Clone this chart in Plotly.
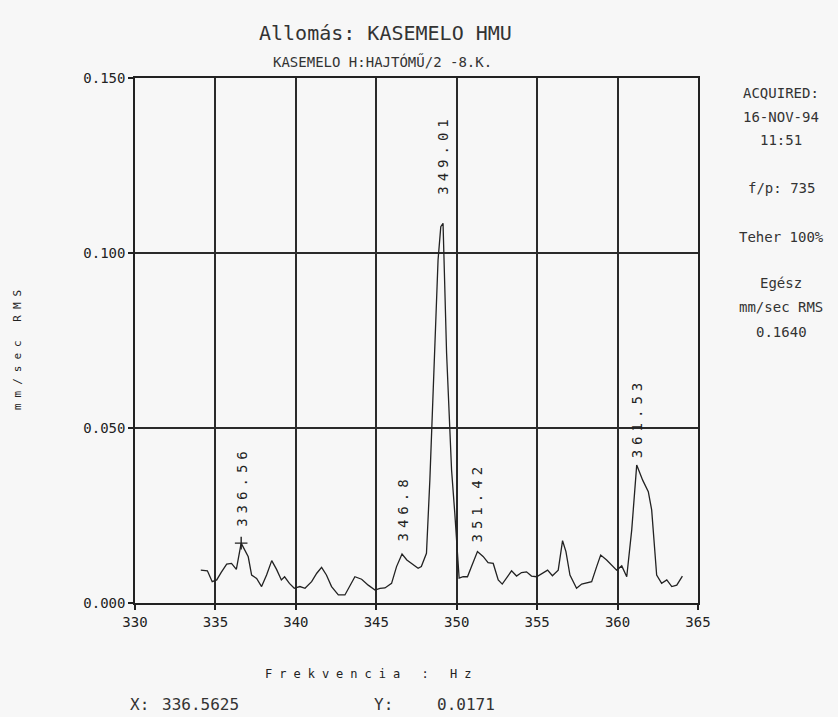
import plotly.graph_objects as go

# ---------------- data ----------------
freq = [334.09, 334.5, 334.8, 335.08, 335.35, 335.7, 336.0, 336.3, 336.6, 337.04,
        337.25, 337.56, 337.87, 338.18, 338.5, 338.8, 339.1, 339.3, 339.6, 339.9,
        340.25, 340.57, 340.98, 341.3, 341.6, 341.9, 342.22, 342.64, 343.05, 343.36,
        343.67, 344.09, 344.5, 344.92, 345.23, 345.54, 345.95, 346.26, 346.6, 346.9,
        347.2, 347.6, 347.8, 348.12, 348.33, 348.59, 348.84, 349.01, 349.15, 349.37,
        349.68, 349.88, 350.0, 350.15, 350.4, 350.67, 350.92, 351.29, 351.64, 351.95,
        352.27, 352.58, 352.83, 353.10, 353.41, 353.72, 354.03, 354.34, 354.65, 354.97,
        355.31, 355.65, 355.95, 356.31, 356.58, 356.79, 357.04, 357.45, 357.77, 358.08,
        358.39, 358.7, 358.95, 359.32, 359.63, 359.94, 360.26, 360.57, 360.88, 361.19,
        361.56, 361.91, 362.12, 362.43, 362.74, 363.06, 363.37, 363.68, 364.03]
amp = [0.0094, 0.0092, 0.0061, 0.0066, 0.0087, 0.0111, 0.0113, 0.0096, 0.0171, 0.0132,
       0.0080, 0.0070, 0.0047, 0.0080, 0.0121, 0.0096, 0.0066, 0.0075, 0.0056, 0.0042,
       0.0047, 0.0042, 0.0061, 0.0085, 0.0102, 0.0080, 0.0047, 0.0023, 0.0023, 0.0047,
       0.0075, 0.0068, 0.0051, 0.0037, 0.0042, 0.0043, 0.0056, 0.0104, 0.0140, 0.0123,
       0.0113, 0.0099, 0.0104, 0.0142, 0.0351, 0.0666, 0.0980, 0.1075, 0.1085, 0.0714,
       0.0380, 0.0257, 0.0161, 0.0071, 0.0075, 0.0075, 0.0104, 0.0147, 0.0133, 0.0115,
       0.0113, 0.0066, 0.0054, 0.0071, 0.0092, 0.0077, 0.0087, 0.0089, 0.0077, 0.0075,
       0.0085, 0.0094, 0.0078, 0.0094, 0.0178, 0.0147, 0.0080, 0.0042, 0.0054, 0.0058,
       0.0061, 0.0104, 0.0137, 0.0123, 0.0109, 0.0094, 0.0106, 0.0075, 0.0209, 0.0394,
       0.0351, 0.0318, 0.0266, 0.0080, 0.0056, 0.0066, 0.0047, 0.0051, 0.0077]
assert len(freq) == len(amp)

peak_labels = ["336.56", "346.8", "349.01", "351.42", "361.53"]
peak_x = [336.6, 346.6, 349.15, 351.29, 361.19]
peak_y = [0.0171, 0.0140, 0.1085, 0.0147, 0.0394]

cursor_x = [336.6]
cursor_y = [0.0171]

x_ticks = [330, 335, 340, 345, 350, 355, 360, 365]
y_ticks = [0.0, 0.05, 0.10, 0.15]

title_text = "Allomás: KASEMELO HMU"
subtitle_text = "KASEMELO H:HAJTÓMŰ/2 -8.K."
x_title = "Frekvencia : Hz"
y_title = "mm/sec RMS"
side_lines = ["ACQUIRED:", "16-NOV-94", "11:51", "f/p: 735", "Teher 100%",
              "Egész", "mm/sec RMS", "0.1640"]
readout = ["X:", "336.5625", "Y:", "0.0171"]

# ---------------- style ----------------
FONT = "DejaVu Sans Mono"
INK = "#222222"
BG = "#f7f7f7"
W, H = 838, 717
ML, MR, MT, MB = 135, 140, 78, 114
PW, PH = W - ML - MR, H - MT - MB


def px(x):
    return (x - ML) / PW


def py(y):
    return (H - MB - y) / PH


fig = go.Figure()
fig.add_trace(go.Scatter(x=freq, y=amp, mode="lines",
                         line=dict(color=INK, width=1.3), hoverinfo="x+y"))
fig.add_trace(go.Scatter(x=cursor_x, y=cursor_y, mode="markers",
                         marker=dict(symbol="cross-thin", size=9,
                                     line=dict(color=INK, width=1.4)),
                         hoverinfo="skip"))

ann = []
label_shift = [14, 10, 26, 7, 5]
for lab, xx, yy, sh in zip(peak_labels, peak_x, peak_y, label_shift):
    ann.append(dict(x=xx, y=yy, xref="x", yref="y", showarrow=False,
                    text=f'<span style="letter-spacing:5px">{lab}</span>',
                    textangle=-90, xanchor="center", yanchor="bottom",
                    yshift=sh, font=dict(family=FONT, size=14, color=INK)))

ann.append(dict(x=px(385), y=py(33), xref="paper", yref="paper", showarrow=False,
                text=title_text, xanchor="center", yanchor="middle",
                font=dict(family=FONT, size=20, color="#333")))
ann.append(dict(x=px(382), y=py(62), xref="paper", yref="paper", showarrow=False,
                text=subtitle_text, xanchor="center", yanchor="middle",
                font=dict(family=FONT, size=14, color="#333")))
ann.append(dict(x=px(371), y=py(674), xref="paper", yref="paper", showarrow=False,
                text=f'<span style="letter-spacing:7px">{x_title}</span>',
                xanchor="center", yanchor="middle",
                font=dict(family=FONT, size=12, color=INK)))
ann.append(dict(x=px(17), y=py(347), xref="paper", yref="paper", showarrow=False,
                text=f'<span style="letter-spacing:6px">{y_title}</span>',
                textangle=-90, xanchor="center", yanchor="middle",
                font=dict(family=FONT, size=11, color=INK)))

side_y = [93, 117, 140, 188, 237, 283, 307, 332]
for t, yy in zip(side_lines, side_y):
    ann.append(dict(x=px(781), y=py(yy), xref="paper", yref="paper", showarrow=False,
                    text=t, xanchor="center", yanchor="middle",
                    font=dict(family=FONT, size=14, color="#333")))

read_x = [128, 160, 372, 435]
for t, xx in zip(readout, read_x):
    ann.append(dict(x=px(xx), y=py(704), xref="paper", yref="paper", showarrow=False,
                    text=t, xanchor="left", yanchor="middle",
                    font=dict(family=FONT, size=16, color="#333")))

axis_common = dict(showline=True, linecolor=INK, linewidth=1.5, mirror=True,
                   showgrid=True, gridcolor="#2a2a2a", gridwidth=1.5,
                   ticks="outside", ticklen=5, tickcolor=INK, tickwidth=1.5,
                   zeroline=False, tickfont=dict(family=FONT, size=14, color=INK))

fig.update_layout(
    width=W, height=H,
    margin=dict(l=ML, r=MR, t=MT, b=MB),
    paper_bgcolor=BG, plot_bgcolor=BG,
    showlegend=False,
    xaxis=dict(range=[330, 365], tickvals=x_ticks,
               ticktext=[str(v) for v in x_ticks], **axis_common),
    yaxis=dict(range=[0, 0.15], tickvals=y_ticks, tickformat=".3f", **axis_common),
    annotations=ann,
)

fig.write_html("out.html")
